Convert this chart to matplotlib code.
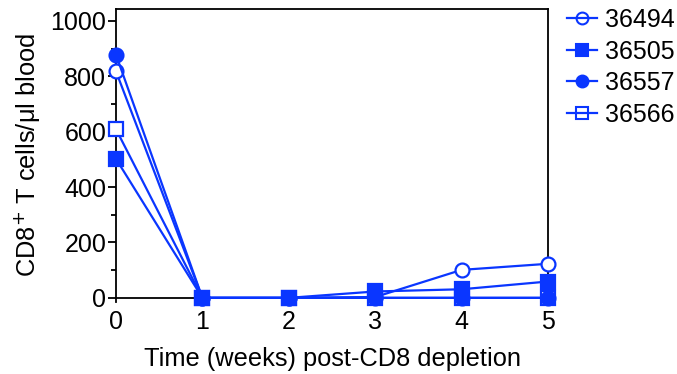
import matplotlib
matplotlib.use("Agg")
import matplotlib.pyplot as plt
from matplotlib.ticker import MultipleLocator
from matplotlib.lines import Line2D

plt.rcParams['font.family'] = ['Liberation Sans', 'DejaVu Sans']

weeks = [0, 1, 2, 3, 4, 5]
animals = ["36494", "36505", "36557", "36566"]
s36494 = [818, 0, 0, 3, 101, 123]
s36505 = [502, 0, 0, 23, 31, 59]
s36557 = [878, 0, 0, 0, 0, 0]
s36566 = [609, 0, 0, 0, 0, 0]
series = [s36494, s36505, s36557, s36566]
markers = ['o', 's', 'o', 's']
filled = [False, True, True, False]
zorders = [3, 6, 5, 4]
color = '#0A36FF'

fig = plt.figure(figsize=(6.77, 3.74), dpi=100)
ax = fig.add_axes([0.1713, 0.1925, 0.8095 - 0.1713, 0.976 - 0.1925])

handles = []
for name, vals, m, f, z in zip(animals, series, markers, filled, zorders):
    ax.plot(weeks, vals, color=color, lw=1.6, marker=m, markersize=10 if m == 'o' else 9.5,
            markerfacecolor=color if f else 'white', markeredgecolor=color,
            markeredgewidth=1.6, clip_on=False, zorder=z)
    handles.append(Line2D([], [], color=color, lw=1.6, marker=m,
                          markersize=8.5 if m == 'o' else 8,
                          markerfacecolor=color if f else 'none',
                          markeredgecolor=color, markeredgewidth=1.5, label=name))

ax.set_xlim(0, 5)
ax.set_ylim(-15, 1043)
ax.spines['bottom'].set_position(('data', 0))
for s in ax.spines.values():
    s.set_linewidth(1.3)
ax.set_xticks(weeks)
ax.yaxis.set_major_locator(MultipleLocator(200))
ax.yaxis.set_minor_locator(MultipleLocator(100))
ax.set_yticks([0, 200, 400, 600, 800, 1000])
ax.tick_params(axis='y', which='major', length=6, width=1.3, labelsize=18, pad=1)
ax.tick_params(axis='y', which='minor', length=3.5, width=1.3)
ax.tick_params(axis='x', length=0, labelsize=18, pad=9)
ax.set_xlabel("Time (weeks) post-CD8 depletion", fontsize=18.3, labelpad=9)
ax.set_ylabel("CD8$^{+}$ T cells/\u03bcl blood", fontsize=18.3, labelpad=6)

ax.legend(handles=handles, loc='upper left', bbox_to_anchor=(0.838, 0.978),
          bbox_transform=fig.transFigure,
          frameon=False, fontsize=18, handlelength=1.2, handletextpad=0.3,
          labelspacing=0.3, borderaxespad=0, borderpad=0)

fig.savefig("out.png", dpi=100)
